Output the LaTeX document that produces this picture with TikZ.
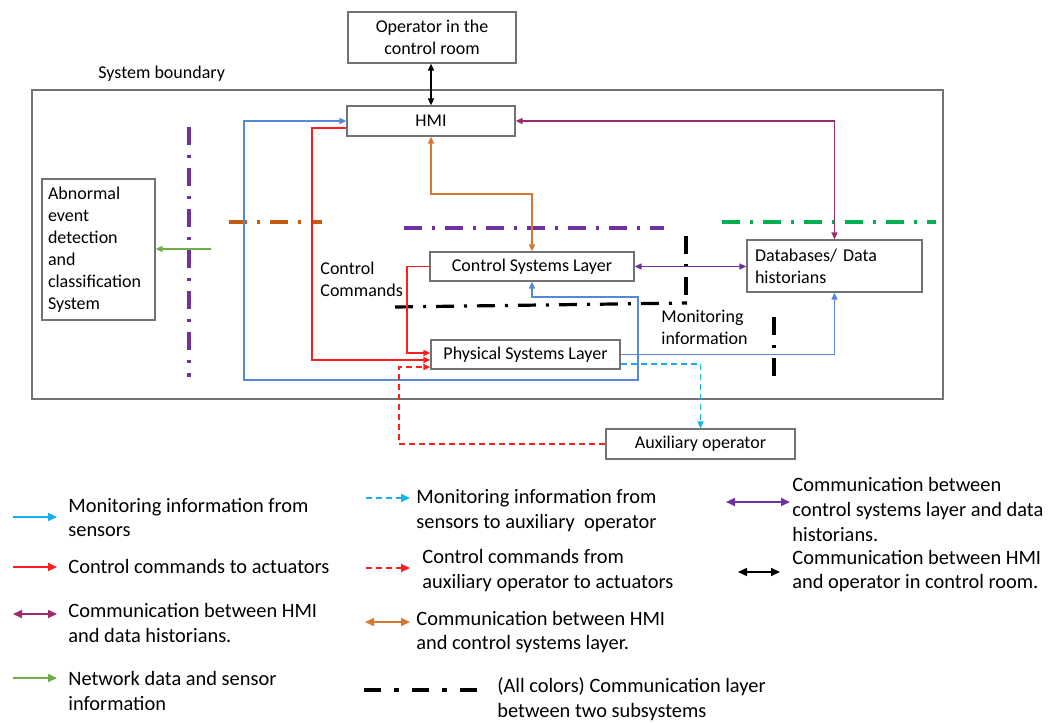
\documentclass[tikz,border=0pt]{standalone}
\usepackage{fontspec}
\setmainfont{Carlito}
\usetikzlibrary{arrows.meta}
\definecolor{monblue}{RGB}{86,136,218}
\definecolor{skyblue}{RGB}{20,176,240}
\definecolor{cmdred}{RGB}{255,30,30}
\definecolor{plum}{RGB}{158,42,110}
\definecolor{csviolet}{RGB}{112,48,160}
\definecolor{hmiorange}{RGB}{214,120,52}
\definecolor{rust}{RGB}{197,90,17}
\definecolor{netgreen}{RGB}{112,173,71}
\definecolor{dashgreen}{RGB}{0,176,80}
\begin{document}
\begin{tikzpicture}[
    x=0.5pt, y=-0.5pt,
    every node/.style={font=\fontsize{9}{11}\selectfont},
    blk/.style={draw=black!55, line width=0.6pt, minimum height=15pt,
      inner sep=0pt, align=center},
    tip/.style={-{Triangle[length=3.5pt,width=3pt]}},
    dtip/.style={{Triangle[length=3.5pt,width=3pt]}-{Triangle[length=3.5pt,width=3pt]}},
    link/.style={line width=0.75pt},
    dsh/.style={dash pattern=on 3pt off 2pt},
    layer/.style={line width=1.6pt, dash pattern=on 9pt off 5pt on 1.5pt off 5pt},
    lbl/.style={anchor=west, inner sep=0pt, align=left},
    key/.style={anchor=west, inner sep=0pt, align=left,
      font=\fontsize{10.2}{12.4}\selectfont},
    ktip/.style={-{Triangle[length=4.5pt,width=4pt]}, line width=1pt},
    kdtip/.style={{Triangle[length=4.5pt,width=4pt]}-{Triangle[length=4.5pt,width=4pt]}, line width=0.8pt},
  ]
  \useasboundingbox (0,0) rectangle (1053,722);
  \draw[draw=black!55, line width=0.6pt] (32,90) rectangle (943,399);
  \node[lbl] (sb) at (98,74) {System boundary};

  \node[blk, minimum width=84pt, minimum height=25.5pt] (op) at (432,37.5) {Operator in the\\control room};
  \node[blk, minimum width=84pt] (hmi) at (431,121) {HMI};
  \node[blk, minimum width=102pt, minimum height=14.5pt] (ctrl) at (532,266.5) {Control Systems Layer};
  \node[blk, minimum width=94.5pt, minimum height=14.5pt] (phys) at (525.5,354.5) {Physical Systems Layer};
  \node[blk, minimum width=94.5pt] (aux) at (700.5,444) {Auxiliary operator};
  \node[blk, text width=79.5pt, inner xsep=4pt, minimum height=26pt, align=left] (db) at (834.5,266) {Databases/ Data\\historians};
  \node[blk, text width=50.5pt, inner xsep=3pt, minimum height=70.5pt, align=left] (aed) at (98.5,249.5) {Abnormal\\event\\detection\\and\\classification\\System};

  \draw[layer, csviolet] (189,127) -- (189,377);
  \draw[layer, rust] (229,222) -- (322,222);
  \draw[layer, csviolet] (404,228) -- (664,228);
  \draw[layer, dashgreen] (722,222) -- (936,222);
  \draw[layer, black] (395,307) -- (687,303);
  \draw[layer, black] (686,236) -- (686,303);
  \draw[layer, black] (774,317) -- (774,377);

  \draw[link, dtip] (hmi.north |- op.south) -- (hmi.north);
  \draw[link, dtip, plum] (hmi.east) -| (db.north);
  \draw[link, dtip, hmiorange] (hmi.south) |- (532,194) -- (ctrl.north);
  \draw[link, dtip, csviolet] (ctrl.east) -- (db.west |- ctrl.east);
  \coordinate (tap) at (638,354.5);
  \draw[link, tip, monblue] (phys.east) -| (db.south);
  \draw[link, tip, monblue] (tap) -- (638,297) -| (ctrl.south);
  \draw[link, tip, monblue] (tap) -- (638,380) -| (244,121) -- (hmi.west);
  \draw[link, tip, cmdred] (hmi.west |- 0,128) -| (312,360) -- (phys.west |- 0,360);
  \draw[link, tip, cmdred] (ctrl.west) -| (407,353) -- (phys.west |- 0,353);
  \draw[link, tip, cmdred, dsh] (aux.west) -| (399,367) -- (phys.west |- 0,367);
  \draw[link, tip, skyblue, dsh] (phys.east |- 0,364) -| (aux.north);
  \coordinate (netin) at (211,249);
  \draw[link, tip, netgreen] (netin) -- (aed.east |- netin);

  \node[lbl] (cc) at (320,279) {Control\\Commands};
  \node[lbl] (mi) at (661,327.5) {Monitoring\\information};

  \draw[ktip, skyblue] (13,517) -- (57,517);
  \node[key] (kmon) at (68,517.5) {Monitoring information from\\sensors};
  \draw[ktip, cmdred] (13,567) -- (57,567);
  \node[key] (kcmd) at (68,566) {Control commands to actuators};
  \draw[kdtip, plum] (13,614) -- (57,614);
  \node[key] (kplum) at (68,623) {Communication between HMI\\and data historians.};
  \draw[ktip, netgreen] (13,678) -- (57,678);
  \node[key] (knet) at (68,691) {Network data and sensor\\information};

  \draw[ktip, skyblue, dsh] (366,498) -- (410,498);
  \node[key] (kauxmon) at (416,510.5) {Monitoring information from\\sensors to auxiliary~ operator};
  \draw[ktip, cmdred, dsh] (366,568) -- (410,568);
  \node[key] (kauxcmd) at (422,570.5) {Control commands from\\auxiliary operator to actuators};
  \draw[kdtip, hmiorange] (365,622) -- (410,622);
  \node[key] (korange) at (416,632) {Communication between HMI\\and control systems layer.};
  \draw[line width=2pt, dash pattern=on 8.5pt off 6.5pt on 2.5pt off 6.5pt] (364,690) -- (480,690);
  \node[key] (klayer) at (497,699) {(All colors) Communication layer\\between two subsystems};

  \draw[kdtip, csviolet] (726,502) -- (790,502);
  \node[key] (kviolet) at (792,509.5) {Communication between\\control systems layer and data\\historians.};
  \draw[kdtip, black] (738,572) -- (780,572);
  \node[key] (kblack) at (792,571) {Communication between HMI\\and operator in control room.};
\end{tikzpicture}
\end{document}
